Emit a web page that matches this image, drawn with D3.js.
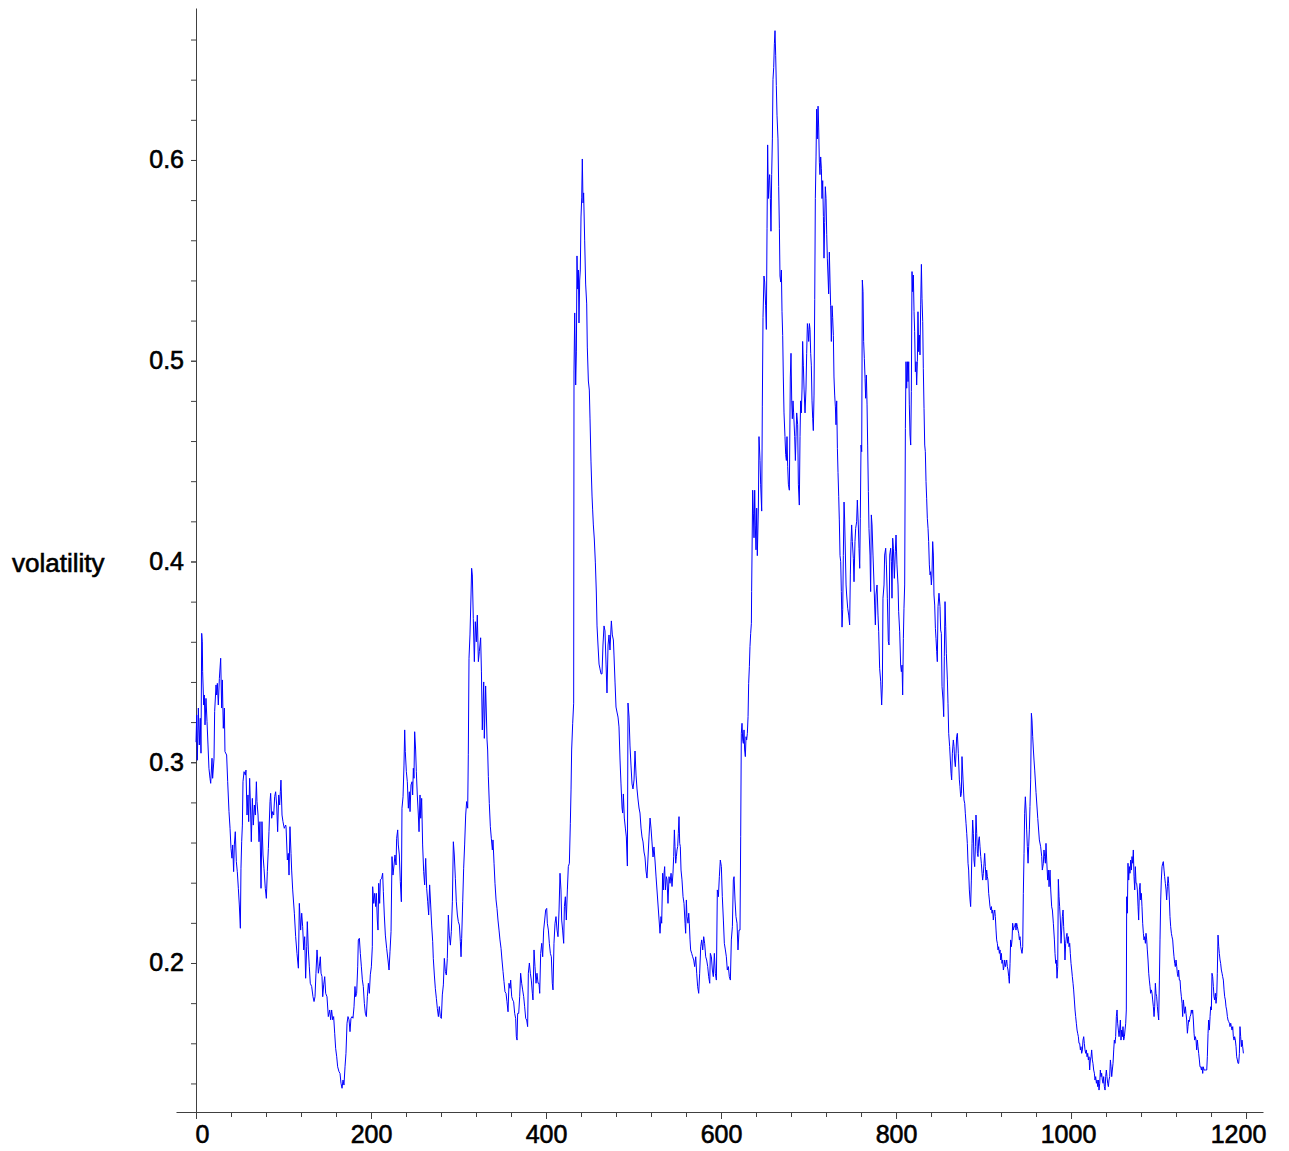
<!DOCTYPE html>
<html>
<head>
<meta charset="utf-8">
<script src="https://cdn.jsdelivr.net/npm/d3@7"></script>
<style>
  body { margin: 0; background: #fff; }
  text { font-family: "Liberation Sans", Arial, sans-serif; }
</style>
</head>
<body>
<svg id="chart"></svg>
<script>
// serie: [dia, volatilidad]
var volatilitySeries = [
 [0,0.310],[0.8,0.3235],[1.5,0.301],[2.7,0.327],[3.8,0.3086],[4.9,0.3219],[5.7,0.3045],[6.5,0.3642],[7.2,0.360],[7.6,0.3451],
 [8.8,0.3285],[9.5,0.3335],[10.3,0.3186],[11.4,0.3318],[12.6,0.3202],[13.7,0.3086],[14.8,0.297],[16,0.292],[16.8,0.2895],[18.3,0.302],
 [19,0.292],[20.6,0.302],[21.3,0.3252],[22.9,0.3385],[23.6,0.3335],[24.4,0.3393],[25.5,0.3285],[26.7,0.3418],[28.2,0.3518],[29.3,0.327],
 [30.1,0.341],[31.2,0.3169],[32.4,0.327],[33.1,0.3053],[35,0.3036],[36.2,0.2903],[37.7,0.2754],[38.9,0.2671],[40,0.2571],[41.1,0.2522],
 [41.9,0.2588],[43,0.2455],[43.8,0.2588],[44.9,0.2654],[46.1,0.2505],[47.2,0.2455],[48.4,0.2372],[49.5,0.2289],[50.7,0.2173],[51.4,0.2472],
 [52.2,0.2604],[53,0.2687],[53.7,0.2903],[54.9,0.2953],[56.4,0.2936],[57.1,0.2961],[58.3,0.2737],[59.4,0.2837],[60.2,0.2704],[61.3,0.292],
 [62.5,0.2737],[63.2,0.2604],[64.4,0.282],[65.5,0.2687],[66.7,0.2787],[67.8,0.2737],[69,0.2903],[69.7,0.2804],[70.9,0.2737],[72,0.2604],
 [73.1,0.2704],[74.3,0.2372],[75.4,0.2704],[76.6,0.2538],[77.7,0.2472],[79.2,0.2372],[80.4,0.2322],[81.5,0.2455],[82.7,0.2571],[83.4,0.2654],
 [84.6,0.2804],[85.3,0.2845],[86.5,0.2721],[87.6,0.2754],[88.8,0.2737],[89.9,0.2829],[91,0.2853],[92.2,0.2787],[93.3,0.2654],[94.5,0.2837],
 [95.6,0.2787],[96.4,0.2853],[97.1,0.2911],[98.3,0.2737],[99.4,0.2704],[100.9,0.2671],[102.5,0.2687],
 [102.9,0.2679],[104.4,0.2513],[105.5,0.2546],[106.3,0.2438],[107.4,0.2679],[108.6,0.2546],[109.3,0.2463],[110.5,0.2364],[112.4,0.2248],[113.9,0.2131],
 [115.4,0.2048],[117,0.1974],[118.1,0.2297],[119.6,0.2164],[120.8,0.2248],[121.9,0.2181],[123.1,0.2065],[124.2,0.2131],[125.3,0.1924],[126.5,0.2081],
 [127.2,0.2206],[128.4,0.2065],[129.5,0.1981],[130.6,0.1899],[132.2,0.1883],[133.7,0.1832],[134.9,0.1808],[136,0.1832],[137.1,0.1949],[138.3,0.2065],
 [139,0.2015],[139.8,0.1949],[140.9,0.1981],[142.1,0.2031],[142.9,0.1949],[144,0.1932],[144.8,0.1832],[145.9,0.1891],[147.1,0.1932],[148.2,0.1849],
 [149.7,0.1832],[151.2,0.1733],[152.8,0.1766],[153.9,0.1717],[155,0.1766],[156.2,0.1717],[157.3,0.1733],[158.5,0.165],[159.6,0.1575],[160.8,0.1533],
 [161.9,0.1483],[163.4,0.1459],[164.6,0.145],[165.7,0.1401],[166.9,0.1376],[168,0.1417],[169.1,0.1392],[170.3,0.1483],[171.4,0.155],[172.6,0.17],
 [173.7,0.1733],[174.9,0.1717],[176,0.1658],[177.1,0.1725],[178.3,0.1733],[179.4,0.1725],[180.6,0.1782],[181.7,0.1883],[182.5,0.1832],[183.6,0.1849],
 [184.8,0.1981],[185.5,0.2115],[186.7,0.2123],[187.8,0.2048],[189,0.1981],[190.1,0.1916],[191.2,0.1883],[192.4,0.1799],[193.5,0.175],[194.7,0.1733],
 [195.8,0.1832],[197,0.1899],[198.1,0.1849],[199.2,0.1941],[200.4,0.1981],[201.5,0.2081],[201.9,0.238],[203.1,0.2297],[204.2,0.2347],[205.3,0.2281],
 [206.1,0.2347],[207.2,0.2214],[208,0.2164],[208.8,0.2397],[209.9,0.2297],[210.7,0.2414],
 [212.2,0.2422],[213.3,0.2447],[214.1,0.2355],[215.2,0.2239],[216.4,0.2139],[217.9,0.2073],[219.4,0.2015],[220.6,0.1965],[221.7,0.2056],[222.9,0.2156],
 [224,0.253],[225.1,0.2438],[226.3,0.2488],[227.4,0.2538],[228.6,0.2488],[229.3,0.2621],[230.5,0.2663],[231.2,0.2588],[232.4,0.2538],[233.5,0.2405],
 [234.7,0.2305],[235.4,0.2771],[236.6,0.2828],[237.7,0.2986],[238.5,0.3161],[239.2,0.3053],[240.4,0.2953],[241.5,0.2903],[242.7,0.2771],[243.8,0.2853],
 [244.6,0.2754],[245.7,0.2887],[246.9,0.2903],[247.6,0.2837],[248.4,0.297],[249.1,0.292],[249.9,0.3152],[251,0.3061],[251.8,0.2953],[252.9,0.2837],
 [254.1,0.2737],[254.9,0.2654],[256,0.2837],[256.8,0.2721],[257.9,0.282],[259,0.2588],[260.2,0.2455],[261.3,0.2389],[262.5,0.2521],[263.6,0.2372],
 [264.8,0.2305],[265.9,0.2239],[267,0.2389],[268.2,0.2289],[269.3,0.2189],[270.5,0.2106],[271.2,0.2023],[272.4,0.194],[273.5,0.1874],[274.7,0.1824],
 [275.8,0.1774],[277,0.1733],[278.1,0.1783],[279.2,0.1733],[280.4,0.1724],[281.5,0.1841],[282.7,0.1891],[283.8,0.2023],[285,0.1957],[286.1,0.194],
 [287.2,0.2023],[288.4,0.2239],[289.5,0.2139],[290.7,0.2089],[291.8,0.2156],[293,0.2305],[294.1,0.2604],[295.2,0.2538],[296.4,0.2422],[297.5,0.2305],
 [298.7,0.2239],[299.8,0.2206],[301,0.2189],[302.1,0.2106],[302.9,0.2031],[303.6,0.2122],[304.8,0.2305],[305.9,0.2472],[307,0.2588],[308.2,0.2737],
 [309.3,0.2804],[310.5,0.2771],[311.2,0.3037],[312,0.3518],[313.1,0.3634],[314.3,0.3833],[315,0.3966],[315.8,0.3933],[316.9,0.3717],[318.1,0.3501],
 [319.2,0.37],[320.4,0.36],[321.5,0.3733],[322.7,0.3501],[323.8,0.3551],[325.3,0.362],[326.2,0.345],
 [327.2,0.3161],[328.8,0.340],[329.5,0.3119],[331,0.338],[332.6,0.3111],[333.3,0.3061],[334.1,0.2928],[335.2,0.2795],[336.4,0.2679],[337.5,0.2621],
 [338.7,0.2563],[339.4,0.2613],[340.6,0.2497],[341.7,0.2397],[342.9,0.2314],[344,0.2272],[345.1,0.2214],[346.3,0.2164],[347.4,0.2115],[348.6,0.2073],
 [349.7,0.2015],[350.9,0.1957],[352,0.1907],[353.1,0.1857],[354.3,0.1849],[355.4,0.1807],[356.6,0.1757],[357.7,0.1899],[358.9,0.1874],[359.6,0.1915],
 [360.8,0.1832],[361.9,0.1816],[363,0.1807],[364.2,0.1749],[365.3,0.1724],[366.1,0.1633],[366.9,0.1616],[367.6,0.1749],[368.8,0.1749],[369.9,0.1832],
 [371,0.1949],[372.2,0.1899],[373.3,0.1866],[374.5,0.1832],[375.6,0.1782],[376.8,0.1724],[377.9,0.1716],[379,0.1683],[379.8,0.1949],[381,0.2],
 [382.1,0.1949],[383.2,0.1915],[384.4,0.1849],[385.1,0.1816],[386.3,0.2065],[387.4,0.1982],[388.6,0.1899],[389.7,0.1949],[390.9,0.1899],[392,0.1899],
 [392.8,0.1849],[393.9,0.2048],[395.1,0.2098],[396.2,0.2031],[397.3,0.2164],[398.5,0.2214],[399.6,0.2264],[400.8,0.2272],[401.5,0.2198],[402.7,0.2164],
 [403.8,0.2098],[405,0.2048],[406.1,0.2031],[407.2,0.1899],[408,0.1866],[409.1,0.2098],[410.3,0.2198],[411.4,0.2231],[412.6,0.2164],[413.7,0.2131],
 [414.9,0.2264],[416,0.2447],[417.1,0.2364],[417.9,0.2214],[419,0.2164],[420.2,0.2098],[421,0.2281],[422.1,0.233],[423.2,0.2214],[424.4,0.2364],
 [425.5,0.248],[426.7,0.2497],[427.8,0.2696],[428.6,0.2862],[429.3,0.3061],[430.5,0.3194],[431.6,0.3294],
 [432,0.4949],[432.8,0.5238],[433.9,0.4879],[434.7,0.5044],[435.4,0.5522],[436.2,0.5357],[437,0.5452],[437.7,0.5188],[438.5,0.5402],[439.2,0.5452],
 [440,0.5716],[440.8,0.5811],[441.5,0.6005],[442.3,0.5786],[443,0.5836],[444.2,0.5597],[445.3,0.5382],[446.5,0.5283],[447.2,0.5068],[448.4,0.4899],
 [449.5,0.4854],[450.3,0.471],[451.4,0.4496],[452.6,0.4326],[453.3,0.4257],[454.1,0.4182],[455.2,0.4112],[456.4,0.3993],[457.5,0.3848],[458.3,0.3679],
 [459.4,0.3584],[460.6,0.3489],[461.7,0.3465],[462.9,0.344],[464,0.344],[465.1,0.3584],[466.3,0.3679],[467.4,0.3654],[468.6,0.3489],[469.7,0.3345],
 [470.9,0.3584],[472,0.3634],[473.1,0.3559],[473.9,0.3634],[474.7,0.3704],[475.8,0.3634],[477,0.3609],[477.7,0.3534],[478.9,0.3395],[480,0.3275],
 [481.1,0.325],[482.3,0.3225],[483.4,0.3176],[484.6,0.3011],[485.7,0.2892],[486.9,0.2772],[487.6,0.2747],[488.4,0.2842],[489.5,0.2722],[490.7,0.2672],
 [491.8,0.2628],[493,0.2483],[493.7,0.3295],[494.9,0.3225],[496,0.3081],[497.1,0.2986],[498.3,0.2892],[499.4,0.2867],[500.6,0.2912],[501.7,0.3056],
 [502.9,0.2936],[504,0.2867],[505.1,0.2817],[506.3,0.2772],[507.4,0.2747],[508.6,0.2672],[509.7,0.2628],[510.9,0.2603],[512,0.2553],[513.1,0.2528],
 [514.3,0.2458],[515.4,0.2423],[516.6,0.2528],[517.7,0.2628],[518.9,0.2722],[520,0.2672],[521.1,0.2603],[522.3,0.2528],[523.4,0.2578],[524.6,0.2508],
 [525.7,0.2433],
 [530.3,0.2148],[531.4,0.2231],[532.2,0.2198],[533.3,0.2447],[534.1,0.2364],[534.9,0.2447],[535.6,0.248],[536.4,0.2364],[537.5,0.243],[538.3,0.2414],
 [539.4,0.2297],[540.6,0.243],[541.7,0.2397],[542.9,0.2447],[544,0.2381],[545.1,0.2447],[545.9,0.253],[546.7,0.2663],[547.4,0.258],[548.2,0.2497],
 [549,0.253],[549.7,0.2563],[550.5,0.258],[551.2,0.2646],[552,0.2729],[552.8,0.2596],[553.5,0.258],[554.3,0.2463],[555.4,0.2414],[556.6,0.233],
 [557.7,0.2297],[558.9,0.2198],[559.6,0.2148],[560.4,0.2314],[561.1,0.2231],[562.3,0.2198],[563.1,0.2248],[563.8,0.2198],[564.6,0.2115],[565.3,0.2065],
 [566.5,0.2048],[567.6,0.2031],[568.8,0.2015],[569.9,0.1982],[571.1,0.2031],[572.2,0.1949],[573.3,0.1882],[574.5,0.1849],[575.6,0.1949],[576.8,0.2081],
 [577.9,0.2115],[579.1,0.2065],[580.2,0.2131],[581.3,0.2098],[582.5,0.2031],[583.6,0.2015],[584.8,0.1982],[585.9,0.1932],[587.1,0.1899],[587.8,0.2048],
 [589,0.2031],[590.1,0.1965],[591.2,0.1932],[592.4,0.2048],[593.5,0.1949],[594.7,0.1915],[595.8,0.2364],[597,0.233],[598.1,0.243],[599.2,0.2513],
 [600.4,0.248],[601.5,0.233],[602.7,0.2214],[603.8,0.2098],[605,0.2065],[606.1,0.2031],[607.2,0.1965],[608.4,0.1982],[609.5,0.1932],[610.7,0.1915],
 [611.8,0.2115],[613,0.2181],[614.1,0.2414],[614.9,0.243],[616,0.2314],[617.1,0.2231],[618.3,0.2198],[619.4,0.2065],[620.6,0.2164],[621.7,0.2164],
 [622.5,0.2629],[623.2,0.3144],[624,0.3194],[624.8,0.3111],[625.5,0.3094],[626.3,0.3161],[627,0.3061],[627.8,0.3028],[628.6,0.3127],[629.3,0.3111],
 [630.1,0.3144],[630.9,0.3227],[631.6,0.3393],[632.4,0.3476],[633.1,0.3576],[633.9,0.3642],[634.7,0.3692],
 [635,0.3851],[636.2,0.4355],[637,0.4237],[637.7,0.4118],[638.5,0.4355],[639.2,0.4177],[640,0.4058],[640.8,0.4266],[641.5,0.4029],[642.7,0.4266],
 [643.4,0.4622],[644.6,0.4503],[645.3,0.4385],[646.5,0.4251],[647.2,0.477],[648,0.5215],[649.1,0.5422],[649.9,0.5392],[651,0.5274],[651.8,0.5156],
 [652.6,0.566],[653.3,0.6075],[654.1,0.5808],[654.9,0.5897],[655.6,0.5927],[656.4,0.5808],[657.1,0.5645],[657.9,0.5927],[658.7,0.6105],[659.4,0.6401],
 [660.2,0.646],[661,0.6579],[661.7,0.6644],[662.5,0.6519],[663.2,0.6371],[664,0.6223],[665.1,0.6105],[665.9,0.5867],[666.7,0.566],[667.4,0.5422],
 [668.2,0.5392],[669,0.5452],[669.7,0.5244],[670.5,0.5126],[671.2,0.4919],[672,0.474],[673.1,0.4622],[673.9,0.4533],[674.7,0.4503],[675.4,0.4622],
 [676.2,0.4474],[677,0.4385],[678.1,0.4355],[679.2,0.4919],[680,0.5037],[680.8,0.48],[681.5,0.4711],[682.3,0.48],[683,0.474],[684.2,0.4622],
 [685,0.4503],[685.7,0.4622],[686.5,0.474],[687.6,0.4681],[688.4,0.4385],[689.5,0.4281],[690.3,0.4622],[691,0.48],[691.8,0.474],[692.6,0.4859],
 [693.3,0.5096],[694.1,0.4978],[694.9,0.4859],[696,0.474],[697.1,0.4859],[697.9,0.5037],[698.7,0.5185],[699.4,0.5156],[700.2,0.5096],[701,0.5185],
 [701.7,0.5156],[702.5,0.5037],[703.2,0.4978],[704,0.48],[704.8,0.4711],[705.5,0.4652],[706.3,0.4829],[707.1,0.5304],[707.8,0.5808],[708.6,0.6015],
 [709.3,0.6253],[710.1,0.6105],[710.9,0.6268],[711.6,0.6164],[712.4,0.5986],[713.1,0.5927],[713.9,0.6015],[714.7,0.5956],[715.4,0.5808],[716.2,0.5897],
 [717,0.5719],[717.7,0.5511],[718.5,0.5689],[719.2,0.5867],[720,0.5808],[720.8,0.563],[721.5,0.5511],[722.3,0.5422],[723,0.5333],[723.8,0.5541],
 [724.6,0.5392],[725.3,0.5274],[726.1,0.5096],[726.9,0.5274],[727.6,0.5215],[728.4,0.5126],[729.1,0.4919],[729.9,0.4829],[730.7,0.477],[731.4,0.4681],
 [732.2,0.48],[733,0.4562],[733.7,0.4444],[734.5,0.4325],[735.2,0.4207],[736,0.4029],[736.8,0.3999],[737.5,0.3851],[738.3,0.3673],[739.1,0.3762],
 [739.8,0.4029],[740.6,0.4296],[741.3,0.4207],
 [742.9,0.3883],[743.6,0.3833],[744.8,0.3767],[745.9,0.3733],[747,0.3684],[747.8,0.3933],[748.6,0.4099],[749.3,0.4182],[750.1,0.4099],[751.2,0.4016],
 [752,0.3899],[753.1,0.4099],[753.9,0.4165],[755,0.4198],[755.8,0.4306],[756.9,0.4182],[757.7,0.4066],[758.5,0.3966],[759.2,0.4215],[760,0.458],
 [760.8,0.4547],[761.5,0.5402],[762.3,0.5344],[763,0.5095],[763.8,0.5012],[764.6,0.4913],[765.3,0.4813],[766.1,0.4929],[766.9,0.478],[767.6,0.458],
 [768.4,0.4348],[769.1,0.4165],[770.3,0.4032],[771,0.385],[771.8,0.4232],[772.6,0.4182],[773.7,0.4032],[774.9,0.3883],[775.6,0.3783],[776.4,0.3684],
 [777.1,0.3833],[778.3,0.3883],[779.4,0.3733],[780.2,0.365],[781.3,0.3468],[782.5,0.3401],[783.6,0.3285],[784.4,0.3385],[785.1,0.3817],[786.3,0.3883],
 [787,0.4032],[788.2,0.4066],[789,0.3983],[790.1,0.3817],[791.2,0.3601],[792,0.3584],[792.8,0.4032],[793.9,0.4066],[794.7,0.3999],[795.4,0.3817],
 [796.2,0.4116],[797,0.4066],[798.1,0.3916],[799.2,0.4049],[800,0.4132],[801.1,0.3983],[802.3,0.3883],[803,0.375],[804.2,0.365],[805.3,0.3484],
 [806.1,0.3451],[806.9,0.3484],[807.6,0.3335],[808.4,0.3617],[809.1,0.3767],[809.9,0.3883],[810.7,0.4663],[811.4,0.4995],[812.2,0.4863],[813,0.4995],
 [813.7,0.4896],[814.5,0.4995],[815.2,0.478],[816,0.463],[816.8,0.458],[817.5,0.4846],[818.3,0.5444],[819,0.5344],[819.8,0.5427],[820.6,0.5244],
 [821.3,0.5145],[822.1,0.4945],[822.9,0.4995],[823.6,0.4879],[824.4,0.4995],[825.1,0.5244],[825.9,0.5045],[826.7,0.5128],[827.4,0.5029],[828.2,0.5278],
 [829,0.548],[829.7,0.5311],[830.5,0.5195],[831.2,0.4962],[832,0.4763],[832.8,0.458],[833.5,0.4547],[834.3,0.4398],[835,0.4315],[835.8,0.4215],
 [836.6,0.4165],[837.3,0.4099],[838.1,0.3983],[838.9,0.3933],[839.6,0.3949],[840.4,0.3883],[841.1,0.3933],[841.9,0.4099],[842.7,0.4032],[843.4,0.3833],
 [844.2,0.3783],[845,0.3667],[845.7,0.3617],[846.5,0.3551],[847.2,0.3501],
 [848,0.3775],[849.1,0.3842],[850.3,0.3775],[851,0.3659],[851.8,0.3642],[852.6,0.3376],[853.7,0.331],[854.5,0.3227],[855.2,0.3526],[856,0.38],
 [856.8,0.3675],[857.5,0.3543],[858.7,0.341],[859.4,0.3294],[860.2,0.3144],[861.3,0.3078],[862.1,0.3011],[862.9,0.2945],[863.6,0.2912],[864.4,0.3045],
 [865.5,0.3111],[866.3,0.3078],[867,0.3011],[867.8,0.2978],[868.6,0.3045],[869.3,0.3127],[870.1,0.3144],[871.2,0.3045],[872.4,0.2912],[873.1,0.2878],
 [873.9,0.2828],[874.7,0.2845],[875.4,0.3028],[876.6,0.2912],[877.7,0.2812],[878.5,0.2795],[879.2,0.2746],[880,0.2696],[880.8,0.2646],[881.5,0.2596],
 [882.3,0.2497],[883,0.2463],[883.8,0.2364],[884.6,0.2314],[885.3,0.2281],[886.1,0.2413],[886.9,0.2596],[887.6,0.2712],[888.4,0.2646],[889.1,0.2513],
 [889.9,0.248],[890.7,0.2579],[891.4,0.2737],[892.2,0.2646],[893,0.2546],[893.7,0.253],[894.5,0.2613],[895.2,0.2629],[896,0.2579],[896.8,0.253],
 [897.5,0.2497],[898.3,0.2447],[899,0.2413],[899.8,0.2447],[900.6,0.2497],[901.3,0.2546],[902.1,0.248],[902.9,0.2413],[903.6,0.2463],[904.4,0.243],
 [905.1,0.2413],[905.9,0.2347],[906.7,0.2314],[907.4,0.2281],[908.2,0.2264],[909,0.2281],[909.7,0.2248],[910.5,0.2264],[911.2,0.2214],[912,0.2248],
 [912.8,0.2264],[913.5,0.2231],[914.3,0.2164],[915,0.2115],[915.8,0.2098],[916.6,0.2065],[917.3,0.2081],[918.1,0.2048],[918.9,0.2065],[919.6,0.2015],
 [920.4,0.2048],[921.1,0.1998],[921.9,0.2015],[922.7,0.1965],[923.4,0.1982],[924.2,0.2015],[925,0.1982],[925.7,0.1998],[926.5,0.2015],[927.2,0.1982],
 [928,0.1965],[928.8,0.1932],[929.5,0.1899],[930.3,0.1998],[931,0.2115],[931.8,0.2081],[932.6,0.2115],[933.3,0.2198],[934.1,0.2164],[934.9,0.2181],
 [935.6,0.2181],[936.4,0.2198],[937.1,0.2164],[937.9,0.2198],[938.7,0.2181],[939.4,0.2164],[940.2,0.2148],[941,0.2115],[941.7,0.2131],[942.5,0.2081],
 [943.2,0.2065],[944,0.2048],[944.8,0.2081],[945.5,0.2347],[946.3,0.2546],[947,0.2746],[947.8,0.2828],[948.6,0.2762],[949.3,0.2663],[950.1,0.2579],
 [950.9,0.2497],[951.6,0.2579],[952.4,0.2663],[953.1,0.2779],[953.9,0.2912],[954.7,0.3244],[955.4,0.321],[956.2,0.3127],[957,0.3061],[957.7,0.3011],
 [958.5,0.2961],[960,0.285],[962,0.272],
 [963.8,0.2613],[965.3,0.2579],[966.5,0.253],[967.2,0.2463],[968.4,0.2497],[969.1,0.2563],[969.9,0.253],[970.7,0.2497],[971.4,0.2596],[972.2,0.2513],
 [973.3,0.2413],[974.1,0.2463],[974.9,0.238],[976,0.2463],[976.8,0.2364],[977.9,0.228],[978.7,0.2264],[979.8,0.2198],[981,0.2115],[981.7,0.2048],
 [982.5,0.1998],[983.2,0.2015],[984,0.1924],[984.8,0.1982],[985.5,0.2417],[986.3,0.233],[987,0.228],[987.8,0.2214],[988.6,0.2098],[989.3,0.2164],
 [990.1,0.2231],[990.9,0.2264],[991.6,0.2181],[992.4,0.2115],[993.1,0.2015],[993.9,0.2098],[994.7,0.2131],[995.4,0.2148],[996.2,0.2098],[997,0.2131],
 [997.7,0.2081],[998.5,0.2098],[999.2,0.2048],[1000,0.1998],[1000.8,0.1965],[1001.5,0.1932],[1002.3,0.1899],[1003,0.1866],[1003.8,0.1816],[1004.6,0.1766],
 [1005.3,0.1733],[1006.1,0.17],[1006.9,0.1666],[1007.6,0.165],[1008.4,0.1633],[1009.1,0.16],[1009.9,0.16],[1010.7,0.1567],[1011.4,0.1583],[1012.2,0.155],
 [1013,0.1567],[1013.7,0.1616],[1014.5,0.1633],[1015.2,0.16],[1016,0.1567],[1016.8,0.155],[1017.5,0.1567],[1018.3,0.1533],[1019.1,0.155],[1019.8,0.1517],
 [1020.6,0.1533],[1021.3,0.1467],[1022.1,0.1517],[1022.9,0.1533],[1023.6,0.1567],[1024.4,0.1517],[1025.1,0.15],[1025.9,0.1467],[1026.7,0.1451],[1027.4,0.1417],
 [1028.2,0.1434],[1029,0.1401],[1029.7,0.1417],[1030.5,0.1384],[1031.2,0.1417],[1032,0.1367],[1032.8,0.1401],[1033.5,0.1467],[1034.3,0.1434],[1035,0.1451],
 [1035.8,0.1417],[1036.6,0.1401],[1037.3,0.1434],[1038.1,0.1384],[1038.9,0.1367],[1039.6,0.1434],[1040.4,0.1467],[1041.1,0.1434],[1041.9,0.1401],[1042.7,0.1384],
 [1043.4,0.1417],[1044.2,0.1434],[1045,0.1517],[1045.7,0.1484],[1046.5,0.1434],[1047.2,0.1467],[1048,0.15],[1048.8,0.1567],[1049.5,0.1616],[1050.3,0.16],
 [1051,0.1633],[1051.8,0.1733],[1052.6,0.1766],[1053.3,0.17],[1054.1,0.1666],[1054.9,0.1633],[1055.6,0.1666],[1056.4,0.1716],[1057.1,0.1616],[1057.9,0.1666],
 [1058.7,0.1633],[1059.4,0.1683],[1060.2,0.1616],[1061,0.1633],[1061.7,0.1666],[1062.5,0.17],[1063.2,0.1766],
 [1063.6,0.233],[1064.4,0.2248],[1065.1,0.2497],[1065.9,0.2413],[1066.7,0.248],[1067.4,0.2447],[1068.2,0.2513],[1069,0.2463],[1069.7,0.253],[1070.5,0.2497],
 [1071.2,0.2563],[1072,0.243],[1072.8,0.2364],[1073.5,0.248],[1074.3,0.2397],[1075,0.2397],[1075.8,0.2364],[1076.6,0.228],[1077.3,0.2214],[1078.1,0.2364],
 [1078.9,0.2397],[1079.6,0.2314],[1080.4,0.2347],[1081.1,0.228],[1081.9,0.2198],[1082.7,0.2148],[1083.4,0.2115],[1084.2,0.2131],[1085,0.2098],[1085.7,0.2148],
 [1086.5,0.2115],[1087.2,0.2065],[1088,0.2015],[1088.8,0.1949],[1089.5,0.1915],[1090.3,0.1882],[1091,0.1849],[1091.8,0.1866],[1092.6,0.1849],[1093.3,0.1816],
 [1094.1,0.1782],[1094.9,0.1733],[1095.6,0.1782],[1096.4,0.1899],[1097.1,0.1849],[1097.9,0.1832],[1098.7,0.1782],[1099.4,0.1749],[1100.2,0.1716],[1101,0.1915],
 [1101.7,0.2115],[1102.5,0.2314],[1103.2,0.2413],[1104,0.248],[1104.8,0.2497],[1105.5,0.2505],[1106.3,0.2463],[1107,0.243],[1107.8,0.2397],[1108.6,0.2364],
 [1109.3,0.2314],[1110.1,0.238],[1110.9,0.243],[1111.6,0.2397],[1112.4,0.2314],[1113.1,0.2231],[1113.9,0.2181],[1114.7,0.2148],[1115.4,0.2131],[1116.2,0.2115],
 [1117,0.2065],[1117.7,0.2031],[1118.5,0.1998],[1119.2,0.1982],[1120,0.2015],[1120.8,0.1982],[1121.5,0.1949],[1122.3,0.1932],[1123,0.1965],[1123.8,0.1915],
 [1124.6,0.1915],[1125.3,0.1866],[1126.1,0.1832],[1126.9,0.1799],[1127.6,0.1733],[1128.4,0.1816],[1129.1,0.1782],[1129.9,0.1749],[1130.7,0.1782],[1131.4,0.1749],
 [1132.2,0.1716],[1133,0.165],[1133.7,0.1683],[1134.5,0.1716],[1135.2,0.1708],[1136,0.1733],[1136.8,0.1741],[1137.5,0.1766],[1138.3,0.1749],[1139,0.1766],
 [1139.8,0.1716],[1140.6,0.165],[1141.3,0.1616],[1142.1,0.1633],[1142.9,0.1616],[1143.6,0.1567],[1144.4,0.1616],[1145.1,0.1583],[1145.9,0.155],[1146.7,0.1517],
 [1147.4,0.1483],[1148.2,0.1483],[1149,0.1467],[1149.7,0.1483],[1150.5,0.145],[1151.2,0.1483],[1152,0.1467],[1153.5,0.1467],[1155.1,0.1467],[1155.8,0.1533],
 [1156.6,0.165],[1157.3,0.1716],[1158.1,0.1666],[1158.9,0.1733],[1159.6,0.1782],[1160.4,0.1766],[1161.1,0.1949],[1161.9,0.1932],[1162.7,0.1882],[1163.4,0.1832],
 [1164.2,0.1816],[1165,0.1849],[1165.7,0.1799],[1166.5,0.1832],[1167.2,0.1949],[1168,0.2139],[1168.8,0.2081],[1169.5,0.2048],[1170.3,0.2015],[1171,0.1998],
 [1171.8,0.1965],[1172.6,0.1949],[1173.3,0.1932],[1174.1,0.1915],[1174.9,0.1866],[1175.6,0.1832],[1176.4,0.1816],[1177.1,0.1782],[1177.9,0.1766],[1178.7,0.1733],
 [1179.4,0.1716],[1180.2,0.1708],[1181,0.17],[1181.7,0.1683],[1182.5,0.17],[1183.2,0.1683],[1184,0.1666],[1184.8,0.1683],[1185.5,0.1633],[1186.3,0.1616],
 [1187,0.1633],[1187.8,0.1616],[1188.6,0.1583],[1189.3,0.1533],[1190.1,0.1517],[1190.9,0.15],[1191.6,0.15],[1192.4,0.155],[1193.1,0.1683],[1193.9,0.1633],
 [1194.7,0.1583],[1195.4,0.1616],[1196.2,0.1583],[1197,0.155]
];

var xMinorTicks = d3.range(0, 1201, 40);
var xLabelTicks = [0, 200, 400, 600, 800, 1000, 1200];
var yMinorTicks = d3.range(7, 34).map(function (i) { return i * 0.02; });
var yLabelTicks = [0.2, 0.3, 0.4, 0.5, 0.6];
var yTitle = 'volatility';

var width = 1289, height = 1151;
var axisColor = '#404040';
var fontSize = 25;
var fontFamily = '"Liberation Sans", Arial, sans-serif';

var svg = d3.select('#chart').attr('width', width).attr('height', height);

// escalas (el eje x va un poco antes de 0 y un poco despues de 1200)
var x = d3.scaleLinear().domain([-22.86, 1219.4]).range([176, 1263]);
var y = d3.scaleLinear().domain([0.12578, 0.6757]).range([1112, 8]);

// texto algo mas grueso, como en el original
function estiloTexto(sel, size) {
  sel.attr('font-size', size).attr('fill', '#000')
    .attr('font-family', fontFamily)
    .attr('stroke', '#000').attr('stroke-width', 0.6);
}

// EJE X
var gx = svg.append('g').attr('transform', 'translate(0,' + y.range()[0] + ')');
gx.call(d3.axisBottom(x).tickValues(xMinorTicks).tickSize(5).tickSizeOuter(0).tickFormat(''));
gx.append('g').call(d3.axisBottom(x).tickValues(xLabelTicks).tickSize(7).tickSizeOuter(0).tickPadding(6).tickFormat(d3.format('d')))
  .select('.domain').remove();
gx.selectAll('path, line').attr('stroke', axisColor);
gx.selectAll('text').call(estiloTexto, fontSize)
  .attr('dx', function (d) { return d === 0 ? 6 : d === 1000 ? -3 : d === 1200 ? -8 : 0; });

// EJE Y
var gy = svg.append('g').attr('transform', 'translate(' + x(0) + ',0)');
gy.call(d3.axisLeft(y).tickValues(yMinorTicks).tickSize(5).tickSizeOuter(0).tickFormat(''));
gy.append('g').call(d3.axisLeft(y).tickValues(yLabelTicks).tickSize(5).tickSizeOuter(0).tickPadding(7).tickFormat(d3.format('.1f')))
  .select('.domain').remove();
gy.selectAll('path, line').attr('stroke', axisColor);
gy.selectAll('text').call(estiloTexto, fontSize);

// titulo del eje y
svg.append('text')
  .attr('x', 12)
  .attr('y', (y.range()[0] + y.range()[1]) / 2 + 12)
  .call(estiloTexto, 26)
  .text(yTitle);

// linea de la serie
var line = d3.line()
  .x(function (d) { return x(d[0]); })
  .y(function (d) { return y(d[1]); });

svg.append('path')
  .attr('d', line(volatilitySeries))
  .attr('fill', 'none')
  .attr('stroke', '#0000ff')
  .attr('stroke-width', 1)
  .attr('stroke-linejoin', 'round');
</script>
</body>
</html>
